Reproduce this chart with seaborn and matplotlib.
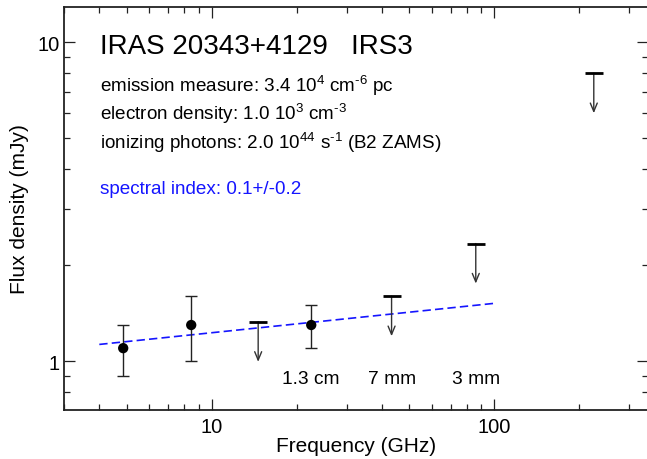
import numpy as np
import pandas as pd
import seaborn as sns
import matplotlib
matplotlib.use("Agg")
import matplotlib.pyplot as plt
from matplotlib.ticker import LogLocator, NullFormatter, FixedLocator, FixedFormatter

# detections (GHz, mJy)
freq_det = [4.86, 8.46, 22.5]
flux_det = [1.1, 1.3, 1.3]
err_det = [0.2, 0.3, 0.2]

# upper limits
freq_ul = [14.6, 43.3, 86.0, 225.0]
flux_ul = [1.33, 1.6, 2.34, 8.0]

# spectral index fit, end points
fit_freq = [4.0, 100.0]
fit_flux = [1.13, 1.52]

band_freq = [22.5, 43.3, 86.0]
band_text = ["1.3 cm", "7 mm", "3 mm"]

title = "IRAS 20343+4129   IRS3"
info_lines = [
    r"emission measure: 3.4 $10^4$ cm$^{\text{-}6}$ pc",
    r"electron density: 1.0 $10^3$ cm$^{\text{-}3}$",
    r"ionizing photons: 2.0 $10^{44}$ s$^{\text{-}1}$ (B2 ZAMS)",
]
fit_text = "spectral index: 0.1+/-0.2"

sns.set_style("ticks")
plt.rcParams["font.family"] = ["Liberation Sans", "DejaVu Sans"]
plt.rcParams["mathtext.fontset"] = "custom"
plt.rcParams["mathtext.rm"] = "Liberation Sans"
plt.rcParams["mathtext.default"] = "regular"
plt.rcParams["lines.scale_dashes"] = False
plt.rcParams["text.color"] = "black"
plt.rcParams["axes.labelcolor"] = "black"
plt.rcParams["xtick.color"] = "black"
plt.rcParams["ytick.color"] = "black"

det = pd.DataFrame({"freq": freq_det, "flux": flux_det, "err": err_det})
ul = pd.DataFrame({"freq": freq_ul, "flux": flux_ul})
fit = pd.DataFrame({"freq": fit_freq, "flux": fit_flux})

fig = plt.figure(figsize=(6.47, 4.6), dpi=100)
ax = fig.add_axes([64 / 647, 49 / 460, 584 / 647, 403 / 460])
ax.set_xscale("log")
ax.set_yscale("log")

# fitted power law
sns.lineplot(data=fit, x="freq", y="flux", ax=ax, color="#1515ff", lw=1.2)
ax.lines[-1].set_dashes([6, 3])

# detections with error bars
ax.errorbar(det["freq"], det["flux"], yerr=det["err"], fmt="none",
            ecolor="#222222", elinewidth=1.0, capsize=4.3, capthick=1.0, zorder=3)
sns.scatterplot(data=det, x="freq", y="flux", ax=ax, color="black",
                s=55, edgecolor="none", zorder=4)

# upper limits: bar plus down arrow
sns.scatterplot(data=ul, x="freq", y="flux", ax=ax, marker="_", color="black",
                s=150, linewidth=2.0, zorder=4)
for f, s in zip(ul["freq"], ul["flux"]):
    ax.annotate("", xy=(f, s), xytext=(0, -40), textcoords="offset pixels",
                arrowprops=dict(arrowstyle="<-,head_length=0.6,head_width=0.25",
                                color="#333333", lw=1.0, shrinkA=0, shrinkB=0))

for f, t in zip(band_freq, band_text):
    ax.text(f, 0.855, t, ha="center", va="baseline", fontsize=13.8)

ax.text(0.062, 0.886, title, transform=ax.transAxes, fontsize=20, va="baseline")
for y, t in zip([0.792, 0.722, 0.649], info_lines):
    ax.text(0.062, y, t, transform=ax.transAxes, fontsize=13.6, va="baseline")
ax.text(0.062, 0.538, fit_text, transform=ax.transAxes, fontsize=13.6,
        va="baseline", color="#1515ff")

ax.set_xlim(3, 350)
ax.set_ylim(0.704, 12.9)

ax.xaxis.set_major_locator(FixedLocator([10, 100]))
ax.xaxis.set_major_formatter(FixedFormatter(["10", "100"]))
ax.xaxis.set_minor_locator(LogLocator(base=10, subs=np.arange(2, 10)))
ax.xaxis.set_minor_formatter(NullFormatter())
ax.yaxis.set_major_locator(FixedLocator([1, 10]))
ax.yaxis.set_major_formatter(FixedFormatter(["1", "10"]))
ax.yaxis.set_minor_locator(LogLocator(base=10, subs=np.arange(2, 10)))
ax.yaxis.set_minor_formatter(NullFormatter())

ax.tick_params(which="both", direction="in", top=True, right=True,
               width=0.9, color="#222222", labelsize=14.5)
ax.tick_params(which="major", length=8)
ax.tick_params(which="minor", length=4)
ax.tick_params(axis="x", which="major", pad=5)
ax.tick_params(axis="y", which="major", pad=3)
for sp in ax.spines.values():
    sp.set_linewidth(1.3)
    sp.set_color("#222222")

ax.set_xlabel("Frequency (GHz)", fontsize=15, labelpad=0)
ax.set_ylabel("Flux density (mJy)", fontsize=15, labelpad=6)

fig.savefig("out.png", dpi=100)
